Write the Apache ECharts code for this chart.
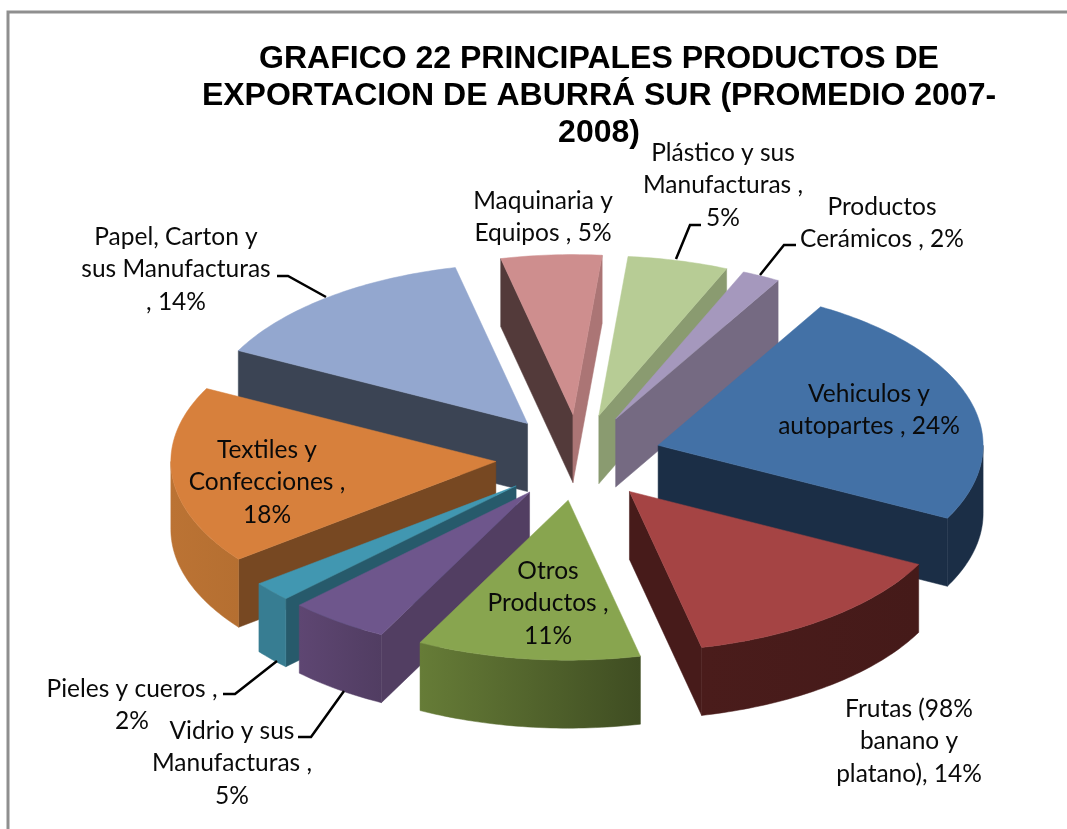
<!DOCTYPE html>
<html>
<head>
<meta charset="utf-8">
<style>html,body{margin:0;padding:0;background:#fff}#c{width:1067px;height:829px}</style>
<script src="https://cdn.jsdelivr.net/npm/echarts@6/dist/echarts.min.js"></script>
</head>
<body>
<div id="c"></div>
<script>
const categories = ['Vehiculos y autopartes','Frutas (98% banano y platano)','Otros Productos','Vidrio y sus Manufacturas','Pieles y cueros','Textiles y Confecciones','Papel, Carton y sus Manufacturas','Maquinaria y Equipos','Plástico y sus Manufacturas','Productos Cerámicos'];
const shares = [24.2,13.9,11.1,5.0,2.0,18.0,13.9,5.0,5.0,1.9];
const labelTexts = [
 'Vehiculos y\nautopartes , 24%','Frutas (98%\nbanano y\nplatano), 14%','Otros\nProductos ,\n11%',
 'Vidrio y sus\nManufacturas ,\n5%','Pieles y cueros ,\n2%','Textiles y\nConfecciones ,\n18%',
 'Papel, Carton y\nsus Manufacturas\n, 14%','Maquinaria y\nEquipos , 5%','Plástico y sus\nManufacturas ,\n5%','Productos\nCerámicos , 2%'];
const titleText = 'GRAFICO 22 PRINCIPALES PRODUCTOS DE\nEXPORTACION DE ABURRÁ SUR (PROMEDIO 2007-\n2008)';
const topColors  = ['#4371a6','#a54444','#88a54f','#6e568c','#4197b1','#d7803c','#93a7cf','#ce8e8e','#b7cc95','#a598bd'];
const wallLeft   = ['#1b2e46','#4a1c1b','#667c37','#5e4672','#377d92','#bb7334','#3b4454','#533a3a','#8a9b70','#756a82'];
const wallRight  = ['#1b2e46','#451a19','#3f4d22','#513d62','#377d92','#b56f31','#3b4454','#533a3a','#8a9b70','#756a82'];
const startCut   = ['#1b2e46','#471b1a','#4f6129','#523e62','#275a6b','#774822','#3b4454','#533a3a','#8a9b70','#756a82'];
const endCut     = ['#1b2e46','#471b1a','#4f6129','#523e62','#275a6b','#774822','#3b4454','#ab7575','#8a9b70','#756a82'];

// projection of the tilted, exploded pie
const CX = 578.5, CY = 457.5, RX = 325, RY = 160, EX = 83, EY = 43, DEPTH = 68, START = 30;
const rad = d => d * Math.PI / 180;
const total = shares.reduce((a, b) => a + b, 0);
let acc = START;
const spans = shares.map(v => { const s = acc; acc += v / total * 360; return [s, acc]; });
const order = spans.map((s, i) => i).sort((a, b) => -Math.cos(rad((spans[a][0] + spans[a][1]) / 2)) + Math.cos(rad((spans[b][0] + spans[b][1]) / 2)));

function renderSlice(params, api) {
  const i = api.value(0);
  const s = api.value(1), e = api.value(2), m = (s + e) / 2;
  const ax = CX + EX * Math.sin(rad(m)), ay = CY - EY * Math.cos(rad(m));
  const rim = t => [ax + RX * Math.sin(rad(t)), ay - RY * Math.cos(rad(t))];
  const down = p => [p[0], p[1] + DEPTH];
  const arc = (a, b) => { const pts = []; const n = Math.max(2, Math.ceil(Math.abs(b - a))); for (let k = 0; k <= n; k++) pts.push(rim(a + (b - a) * k / n)); return pts; };
  const kids = [];
  const poly = (points, fill) => kids.push({ type: 'polygon', shape: { points }, style: { fill, stroke: fill, lineWidth: 0.5 } });
  const apex = [ax, ay];
  if (Math.sin(rad(s)) < 0) poly([apex, rim(s), down(rim(s)), down(apex)], startCut[i]);
  if (Math.sin(rad(e)) > 0) poly([apex, rim(e), down(rim(e)), down(apex)], endCut[i]);
  const a = Math.max(s, 90), b = Math.min(e, 270);
  if (b > a) {
    const top = arc(a, b);
    const x0 = Math.min(top[0][0], top[top.length - 1][0]), x1 = Math.max(top[0][0], top[top.length - 1][0]);
    poly(top.concat(top.slice().reverse().map(down)), {
      type: 'linear', x: x0, y: 0, x2: x1, y2: 0, global: true,
      colorStops: [{ offset: 0, color: wallLeft[i] }, { offset: 1, color: wallRight[i] }]
    });
  }
  poly([apex].concat(arc(s, e)), topColors[i]);
  return { type: 'group', children: kids };
}

const labelAnchors = [[869,394],[909,709],[548,571],[232,731],[132,689],[267,450],[176,237],[543,201],[723,153],[882,207]];
const leaders = [
  [[277,276],[288,276],[326,297]],
  [[701,225],[690,225],[676,259]],
  [[796,245],[784,245],[760,275]],
  [[223,694],[235,694],[277,661]],
  [[298,737],[311,737],[344,691]]
];
const LINE_H = 32.5;

const graphics = [{ type: 'rect', z: 0, shape: { x: 8, y: 12, width: 1300, height: 1100 }, style: { fill: '#fff', stroke: '#8f8f8f', lineWidth: 3 } }];
leaders.forEach(p => graphics.push({ type: 'polyline', z: 20, shape: { points: p }, style: { fill: 'none', stroke: '#000', lineWidth: 2.5 } }));
labelTexts.forEach((t, i) => graphics.push({
  type: 'text', z: 30, x: labelAnchors[i][0], y: labelAnchors[i][1] - LINE_H / 2,
  style: { text: t, align: 'center', verticalAlign: 'top', lineHeight: LINE_H, fill: '#0a0a0a', font: '24.5px Lato' }
}));

const chart = echarts.init(document.getElementById('c'), null, { renderer: 'canvas' });
chart.setOption({
  animation: false,
  backgroundColor: '#fff',
  title: {
    text: titleText, left: 594, top: 36, textAlign: 'center', z: 25,
    textStyle: { fontFamily: 'Liberation Sans', fontWeight: 'bold', fontSize: 32, lineHeight: 37, color: '#000', align: 'center' }
  },
  graphic: graphics,
  series: [{
    type: 'custom', coordinateSystem: 'none', z: 10, silent: true,
    renderItem: renderSlice,
    data: order.map(i => ({ name: categories[i], value: [i, spans[i][0], spans[i][1]] }))
  }]
});
</script>
</body>
</html>
